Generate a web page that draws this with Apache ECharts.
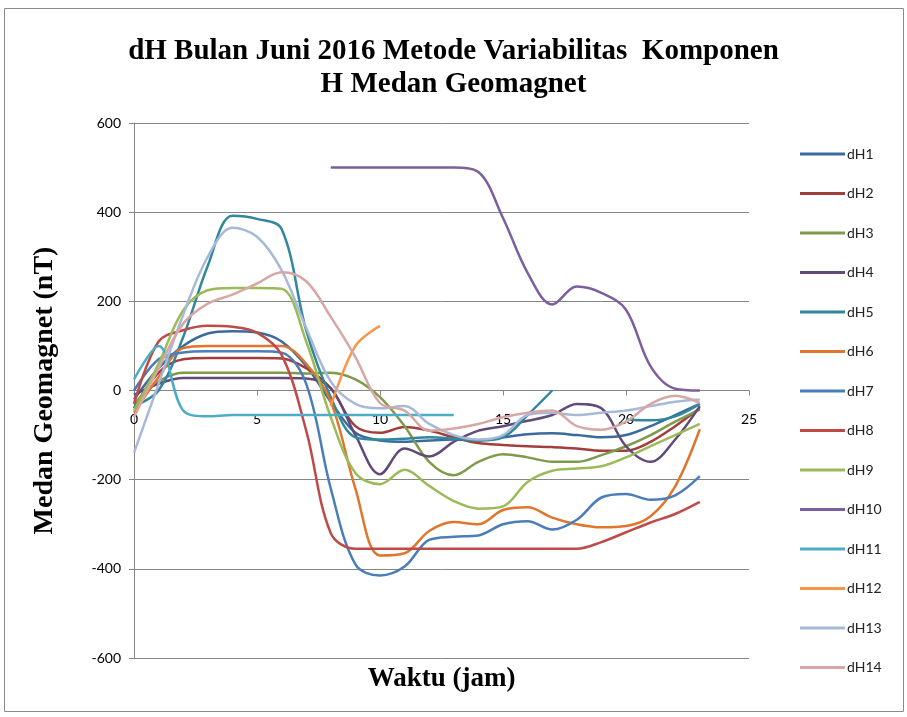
<!DOCTYPE html>
<html>
<head>
<meta charset="utf-8">
<script src="https://cdn.jsdelivr.net/npm/echarts@6/dist/echarts.min.js"></script>
<style>
  html, body { margin: 0; padding: 0; background: #fff; }
  #chart { width: 907px; height: 717px; }
</style>
</head>
<body>
<div id="chart"></div>
<script>
const hours = [0, 1, 2, 3, 4, 5, 6, 7, 8, 9, 10, 11, 12, 13, 14, 15, 16, 17, 18, 19, 20, 21, 22, 23]

const dH1 = [-20, 50, 100, 128, 133, 130, 110, 55, -25, -95, -112, -115, -112, -110, -112, -105, -98, -96, -100, -105, -100, -80, -55, -30]
const dH2 = [-40, 40, 70, 73, 73, 73, 72, 50, 5, -80, -95, -82, -90, -105, -118, -122, -125, -127, -130, -135, -135, -115, -80, -40]
const dH3 = [-30, 20, 40, 40, 40, 40, 40, 38, 40, 25, -15, -80, -160, -190, -160, -143, -150, -160, -160, -145, -125, -100, -70, -43]
const dH4 = [-10, 15, 28, 28, 28, 28, 28, 27, 5, -100, -188, -130, -148, -115, -90, -80, -68, -55, -30, -40, -125, -160, -110, -35]
const dH5 = [-35, 0, 120, 280, 392, 385, 362, 135, -15, -105, -110, -108, -105, -108, -112, -105, -55, 0, null, null, -65, -67, -58, -30]
const dH6 = [-50, 30, 95, 100, 100, 100, 100, 60, -25, -220, -370, -365, -315, -295, -300, -268, -262, -285, -300, -307, -304, -282, -215, -87]
const dH7 = [0, 70, 85, 88, 88, 88, 85, 15, -220, -390, -415, -395, -335, -328, -325, -300, -293, -312, -290, -240, -232, -245, -235, -192]
const dH8 = [-30, 110, 135, 145, 143, 130, 80, -90, -320, -355, -355, -355, -355, -355, -355, -355, -355, -355, -355, -340, -318, -296, -277, -250]
const dH9 = [-45, 60, 180, 225, 230, 230, 228, 110, -60, -185, -210, -178, -214, -248, -265, -260, -205, -180, -175, -170, -150, -125, -100, -75]
const dH10 = [null, null, null, null, null, null, null, null, 500, 500, 500, 500, 500, 500, 490, 387, 264, 193, 233, 219, 181, 54, 4, 0]
const dH11 = [25, 100, -45, -58, -55, -55, -55, -55, -55, -55, -55, -55, -55, -55, null, null, null, null, null, null, null, null, null, null]
const dH12 = [null, null, null, null, null, null, null, null, -35, 100, 145, null, null, null, null, null, null, null, null, null, null, null, null, null]
const dH13 = [-140, 15, 170, 300, 365, 345, 270, 140, 20, -30, -40, -35, -75, -100, -110, -100, -55, -50, -55, -50, -45, -35, -25, -20]
const dH14 = [-60, 50, 150, 195, 215, 240, 265, 245, 165, 75, -28, -45, -90, -85, -75, -60, -50, -45, -80, -88, -70, -30, -12, -28]

const seriesNames = ['dH1', 'dH2', 'dH3', 'dH4', 'dH5', 'dH6', 'dH7', 'dH8', 'dH9', 'dH10', 'dH11', 'dH12', 'dH13', 'dH14']
const seriesValues = [dH1, dH2, dH3, dH4, dH5, dH6, dH7, dH8, dH9, dH10, dH11, dH12, dH13, dH14]
const colors = ['#3a6a9e', '#a23e3c', '#7e9a4a', '#604a7b', '#31879e', '#e0762e', '#4a7ebb',
  '#be4b48', '#9bbb59', '#7b5f9e', '#4bacc6', '#f79646', '#a8b9d8', '#d7a7a5']

const xTicks = [0, 5, 10, 15, 20, 25]
const yTicks = [-600, -400, -200, 0, 200, 400, 600]

const chart = echarts.init(document.getElementById('chart'), null, { renderer: 'canvas' })

const serif = '"Liberation Serif", "Times New Roman", serif'
const sans = 'Lato, "Open Sans", sans-serif'

// plot box; the x axis sits on the y = 0 line, half way down
const gridTop = 123
const gridBottom = 59
const plotHeight = 717 - gridTop - gridBottom

chart.setOption({
  animation: false,
  color: colors,
  title: {
    text: 'dH Bulan Juni 2016 Metode Variabilitas  Komponen\nH Medan Geomagnet',
    left: 'center',
    top: 30,
    textStyle: { fontFamily: serif, fontWeight: 'bold', fontSize: 29, lineHeight: 33, color: '#000' }
  },
  graphic: [{
    type: 'rect',
    shape: { x: 4.5, y: 8.5, width: 899, height: 703 },
    style: { fill: 'none', stroke: '#8a8a8a', lineWidth: 1 }
  }],
  grid: { left: 134, right: 158, top: gridTop, bottom: gridBottom, containLabel: false, outerBoundsMode: 'none' },
  legend: {
    orient: 'vertical',
    left: 795,
    top: 141,
    icon: 'rect',
    itemWidth: 45,
    itemHeight: 3,
    itemGap: 23.5,
    textStyle: { fontFamily: sans, fontSize: 14, color: '#222', lineHeight: 16, padding: [0, 0, 0, -3] },
    data: seriesNames
  },
  xAxis: {
    type: 'value',
    min: xTicks[0],
    max: xTicks[xTicks.length - 1],
    interval: 5,
    offset: -plotHeight / 2,
    name: 'Waktu (jam)',
    nameLocation: 'middle',
    nameGap: 275,
    nameTextStyle: { fontFamily: serif, fontWeight: 'bold', fontSize: 27, color: '#000' },
    axisLine: { onZero: false, lineStyle: { color: '#868686', width: 1 } },
    axisTick: { show: true, length: 5, lineStyle: { color: '#868686' } },
    axisLabel: { margin: 22, fontFamily: sans, fontSize: 14, color: '#000' },
    splitLine: { show: false }
  },
  yAxis: {
    type: 'value',
    min: yTicks[0],
    max: yTicks[yTicks.length - 1],
    interval: 200,
    name: 'Medan Geomagnet (nT)',
    nameLocation: 'middle',
    nameGap: 75,
    nameTextStyle: { fontFamily: serif, fontWeight: 'bold', fontSize: 28, color: '#000' },
    axisLine: { show: true, onZero: false, lineStyle: { color: '#868686', width: 1 } },
    axisTick: { show: true, length: 5, lineStyle: { color: '#868686' } },
    axisLabel: { margin: 13, fontFamily: sans, fontSize: 14, color: '#000' },
    splitLine: { show: true, lineStyle: { color: '#868686', width: 1 } }
  },
  series: seriesNames.map((name, i) => ({
    name: name,
    type: 'line',
    smooth: 0.35,
    symbol: 'none',
    connectNulls: false,
    lineStyle: { width: 2.5 },
    data: hours.map((h, j) => [h, seriesValues[i][j]])
  }))
})
</script>
</body>
</html>
